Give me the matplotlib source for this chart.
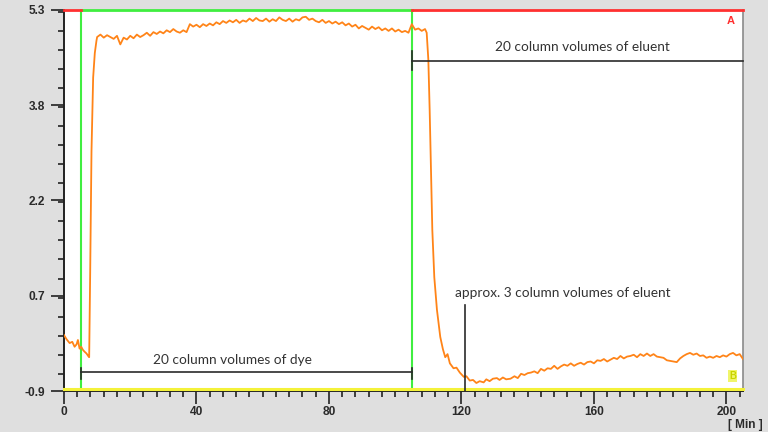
import matplotlib
matplotlib.use('Agg')
import matplotlib.pyplot as plt
from matplotlib.ticker import FixedLocator, MultipleLocator

# ---- data ----
time_pre = [0.0, 0.8, 1.7, 2.5, 3.2, 3.8, 4.2, 4.7, 5.2, 5.7, 6.2, 6.8, 7.3, 7.6]
sig_pre = [0.01, -0.06, -0.12, -0.10, -0.18, -0.14, -0.07, -0.21, -0.18, -0.23, -0.26, -0.29, -0.33, -0.35]

time_rise = [7.9, 8.3, 8.8, 9.3, 9.8]
sig_rise = [1.0, 3.0, 4.2, 4.6, 4.8]

time_dye = [10, 11, 12, 13, 14, 15, 16, 17, 18, 19, 20, 21, 22, 23, 24, 25, 26, 27, 28, 29,
            30, 31, 32, 33, 34, 35, 36, 37, 38, 39, 40, 41, 42, 43, 44, 45, 46, 47, 48, 49,
            50, 51, 52, 53, 54, 55, 56, 57, 58, 59, 60, 61, 62, 63, 64, 65, 66, 67, 68, 69,
            70, 71, 72, 73, 74, 75, 76, 77, 78, 79, 80, 81, 82, 83, 84, 85, 86, 87, 88, 89,
            90, 91, 92, 93, 94, 95, 96, 97, 98, 99, 100, 101, 102, 103, 104, 105, 106, 107,
            108, 109, 109.5]
sig_dye = [4.86, 4.90, 4.85, 4.89, 4.86, 4.83, 4.88, 4.74, 4.85, 4.82, 4.88, 4.84, 4.90, 4.86,
           4.89, 4.93, 4.88, 4.94, 4.91, 4.95, 4.92, 4.97, 4.94, 4.99, 4.95, 4.93, 4.97, 4.94,
           5.07, 5.03, 5.06, 5.02, 5.07, 5.04, 5.08, 5.05, 5.10, 5.07, 5.12, 5.09, 5.13, 5.10,
           5.14, 5.09, 5.13, 5.11, 5.16, 5.12, 5.17, 5.13, 5.12, 5.16, 5.11, 5.15, 5.12, 5.18,
           5.14, 5.12, 5.16, 5.11, 5.15, 5.13, 5.18, 5.19, 5.14, 5.16, 5.12, 5.10, 5.14, 5.09,
           5.12, 5.08, 5.11, 5.07, 5.10, 5.05, 5.08, 5.03, 5.06, 5.00, 5.04, 5.01, 4.98, 5.03,
           4.99, 5.02, 4.97, 5.00, 4.96, 5.00, 4.95, 4.98, 4.94, 4.96, 4.93, 5.07, 4.98, 5.00,
           4.96, 4.99, 4.93]

time_drop = [110.0, 110.4, 110.8, 111.2, 111.8, 112.6, 113.6, 114.4, 115.1, 115.8, 116.5,
             117.6, 118.5, 119.5, 120.7, 121.5, 122.5, 123.5, 124.5, 125.5, 126.7, 127.5,
             128.5, 129.5, 130.7, 131.5, 132.5, 133.5, 134.8]
sig_drop = [4.49, 3.67, 2.70, 1.72, 0.95, 0.42, -0.02, -0.22, -0.35, -0.30, -0.45, -0.53, -0.52,
            -0.60, -0.67, -0.66, -0.73, -0.72, -0.77, -0.74, -0.76, -0.71, -0.74, -0.70, -0.69,
            -0.72, -0.68, -0.71, -0.70]

time_tail = [136, 137, 138, 139, 140, 141, 142, 143, 144, 145, 146, 147, 148, 149, 150, 151,
             152, 153, 154, 155, 156, 157, 158, 159, 160, 161, 162, 163, 164, 165, 166, 167,
             168, 169, 170, 171, 172, 173, 174, 175, 176, 177, 178, 179, 180, 181, 182, 183,
             184, 185, 186, 187, 188, 189, 190, 191, 192, 193, 194, 195, 196, 197, 198, 199,
             200, 201, 202, 203, 204, 205]
sig_tail = [-0.66, -0.69, -0.62, -0.64, -0.61, -0.60, -0.58, -0.61, -0.54, -0.57, -0.53, -0.54,
            -0.49, -0.54, -0.50, -0.47, -0.49, -0.45, -0.49, -0.46, -0.44, -0.47, -0.43, -0.42,
            -0.45, -0.40, -0.41, -0.38, -0.42, -0.39, -0.36, -0.38, -0.33, -0.37, -0.34, -0.33,
            -0.31, -0.35, -0.30, -0.33, -0.29, -0.33, -0.30, -0.34, -0.35, -0.36, -0.40, -0.41,
            -0.42, -0.43, -0.37, -0.33, -0.30, -0.28, -0.31, -0.29, -0.33, -0.32, -0.36, -0.34,
            -0.36, -0.33, -0.35, -0.32, -0.34, -0.30, -0.28, -0.32, -0.30, -0.38]

time = time_pre + time_rise + time_dye + time_drop + time_tail
signal = sig_pre + sig_rise + sig_dye + sig_drop + sig_tail

x_range = (0, 205)
y_range = (-0.9, 5.3)
y_major = [5.3, 3.75, 2.2, 0.65, -0.9]
y_major_labels = ['5.3', '3.8', '2.2', '0.7', '-0.9']
x_major = [0, 40, 80, 120, 160, 200]
x_major_labels = ['0', '40', '80', '120', '160', '200']

dye_start, dye_end = 5, 105
eluent_end = 205
approx_mark = 121

# ---- figure ----
W, H = 768, 432
fig = plt.figure(figsize=(W / 100, H / 100), dpi=100, facecolor='#dfdfdf')
ax = fig.add_axes([64 / W, 1 - 391 / H, (743 - 64) / W, (391 - 10) / H])
ax.set_facecolor('white')
ax.set_xlim(*x_range)
ax.set_ylim(*y_range)

ax.plot(time, signal, color='#ff8418', lw=1.3, zorder=3)

# method lines
green = '#40ee40'
red = '#ff3030'
yellow = '#f4f23a'
ax.axvline(dye_start, color=green, lw=1.5, zorder=2)
ax.axvline(dye_end, color=green, lw=1.5, zorder=2)
ax.plot([dye_start, dye_end], [y_range[1], y_range[1]], color=green, lw=2, clip_on=False, zorder=4)
ax.plot([x_range[0], dye_start], [y_range[1], y_range[1]], color=red, lw=2, clip_on=False, zorder=4)
ax.plot([dye_end, x_range[1]], [y_range[1], y_range[1]], color=red, lw=2, clip_on=False, zorder=4)
ax.plot([x_range[0], x_range[1]], [-0.875, -0.875], color=yellow, lw=2.2, clip_on=False, zorder=4)

# spines
ax.spines['top'].set_visible(False)
ax.spines['right'].set_color('#8a8a8a')
ax.spines['right'].set_linewidth(1.2)
ax.spines['left'].set_color('#222222')
ax.spines['left'].set_linewidth(1.4)
ax.spines['bottom'].set_color('#222222')
ax.spines['bottom'].set_linewidth(1.4)

# ticks
ax.yaxis.set_major_locator(FixedLocator(y_major))
ax.set_yticklabels(y_major_labels)
ax.yaxis.set_minor_locator(MultipleLocator(0.31))
ax.xaxis.set_major_locator(FixedLocator(x_major))
ax.set_xticklabels(x_major_labels)
ax.xaxis.set_minor_locator(MultipleLocator(4))
ax.tick_params(which='major', direction='out', length=9.5, width=1.2, color='#222222')
ax.tick_params(which='minor', direction='out', length=4.3, width=1.2, color='#222222')
ax.tick_params(axis='y', which='major', pad=4)
ax.tick_params(axis='x', which='major', pad=1.0)
for lab in ax.get_xticklabels() + ax.get_yticklabels():
    lab.set_fontfamily('Liberation Sans')
    lab.set_fontweight('bold')
    lab.set_fontsize(8.6)
    lab.set_color('#2a2a2a')

fig.text(763 / W, 1 - 425 / H, '[ Min ]', ha='right', va='center',
         fontfamily='Liberation Sans', fontweight='bold', fontsize=8.6, color='#2a2a2a')

# A / B labels
ax.text(0.9815, 0.983, 'A', transform=ax.transAxes, ha='center', va='top',
        color=red, fontweight='bold', fontsize=8, fontfamily='Liberation Sans')
ax.text(0.985, 0.04, 'B', transform=ax.transAxes, ha='center', va='center',
        color='#c9d400', fontweight='bold', fontsize=7, fontfamily='Liberation Sans',
        bbox=dict(boxstyle='square,pad=0.12', facecolor='#f0f56a', edgecolor='none'))

# annotations
afont = dict(fontfamily='Lato', fontsize=9.8, color='#333333')
ac = '#2a2a2a'
# eluent
y_el = 4.475
ax.plot([dye_end, eluent_end], [y_el, y_el], color=ac, lw=1.2, zorder=5, clip_on=False)
ax.plot([dye_end, dye_end], [4.33, 4.64], color=ac, lw=1.2, zorder=5)
ax.text((dye_end + eluent_end) / 2 + 1.5, 4.70, '20 column volumes of eluent', ha='center',
        va='center', **afont)
# dye
y_dye = -0.586
ax.plot([dye_start, dye_end], [y_dye, y_dye], color=ac, lw=1.2, zorder=5)
ax.plot([dye_start, dye_start], [-0.52, -0.70], color=ac, lw=1.2, zorder=5)
ax.plot([dye_end, dye_end], [-0.52, -0.70], color=ac, lw=1.2, zorder=5)
ax.text((dye_start + dye_end) / 2 - 4, -0.40, '20 column volumes of dye', ha='center',
        va='center', **afont)
# approx
ax.plot([approx_mark, approx_mark], [0.50, y_range[0]], color=ac, lw=1.2, zorder=5)
ax.text(118, 0.70, 'approx. 3 column volumes of eluent', ha='left', va='center', **afont)

fig.savefig('out.png', dpi=100, facecolor=fig.get_facecolor())
